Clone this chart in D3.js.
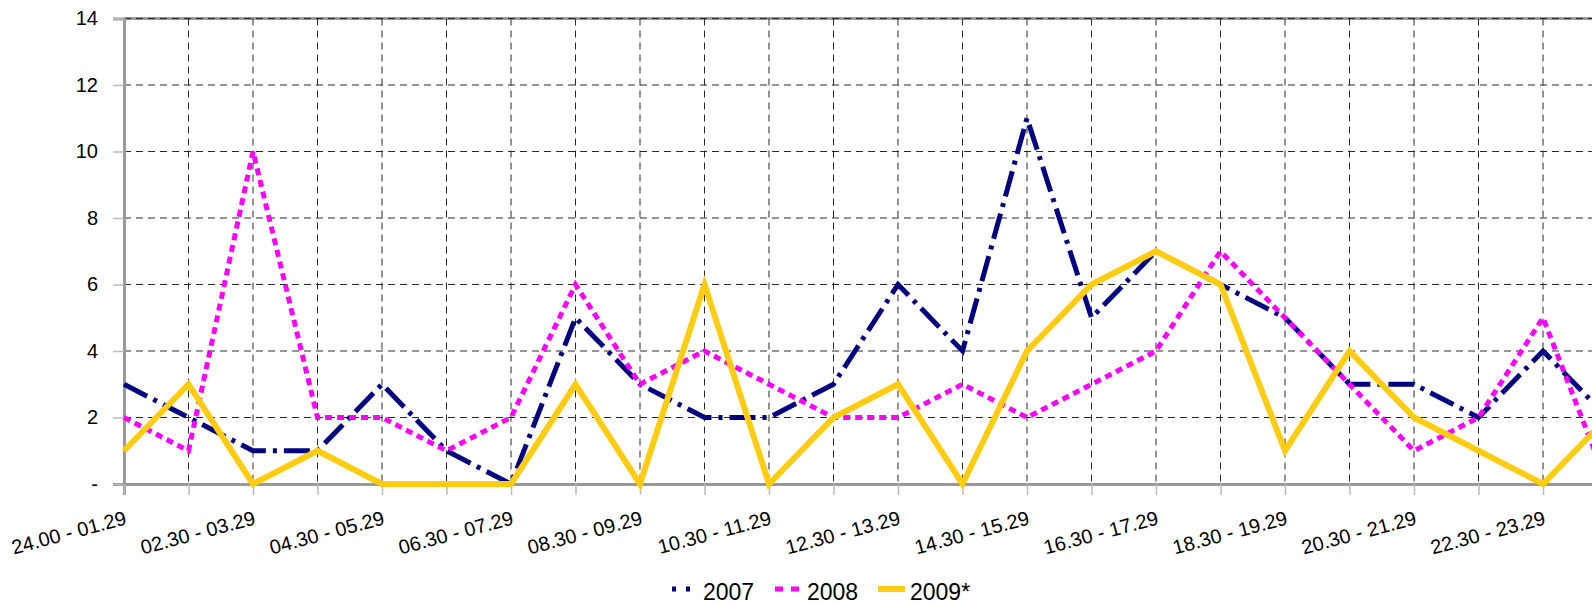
<!DOCTYPE html>
<html>
<head>
<meta charset="utf-8">
<script src="https://cdn.jsdelivr.net/npm/d3@7"></script>
<style>
  html, body { margin: 0; padding: 0; background: #fff; overflow: hidden; }
  svg { display: block; font-family: "Liberation Sans", Arial, sans-serif; }
</style>
</head>
<body>
<svg id="chart" width="1592" height="605"></svg>
<script>
const categories = [
  "24.00 - 01.29", "01.30 - 02.29", "02.30 - 03.29", "03.30 - 04.29",
  "04.30 - 05.29", "05.30 - 06.29", "06.30 - 07.29", "07.30 - 08.29",
  "08.30 - 09.29", "09.30 - 10.29", "10.30 - 11.29", "11.30 - 12.29",
  "12.30 - 13.29", "13.30 - 14.29", "14.30 - 15.29", "15.30 - 16.29",
  "16.30 - 17.29", "17.30 - 18.29", "18.30 - 19.29", "19.30 - 20.29",
  "20.30 - 21.29", "21.30 - 22.29", "22.30 - 23.29", "23.30 - 23.59"
];
const values2007 = [3, 2, 1, 1, 3, 1, 0, 5, 3, 2, 2, 3, 6, 4, 11, 5, 7, 6, 5, 3, 3, 2, 4, 2];
const values2008 = [2, 1, 10, 2, 2, 1, 2, 6, 3, 4, 3, 2, 2, 3, 2, 3, 4, 7, 5, 3, 1, 2, 5, 0];
const values2009 = [1, 3, 0, 1, 0, 0, 0, 3, 0, 6, 0, 2, 3, 0, 4, 6, 7, 6, 1, 4, 2, 1, 0, 2];
const seriesNames = ["2007", "2008", "2009*"];
const yTicks = [0, 2, 4, 6, 8, 10, 12, 14];

const series = [
  { name: seriesNames[0], values: values2007, color: "#000080", width: 5, dash: "26,7,4,7", legendDash: "4,10" },
  { name: seriesNames[1], values: values2008, color: "#FF00FF", width: 5, dash: "7,5", legendDash: "8,8" },
  { name: seriesNames[2], values: values2009, color: "#FFCC11", width: 6, dash: null, legendDash: null }
];

(function () {
const svg = d3.select("#chart");
const plotLeft = 124, plotTop = 18.5, plotBottom = 484, step = 64.5;
const plotRight = plotLeft + step * (categories.length - 1);

const x = d3.scalePoint().domain(categories).range([plotLeft, plotRight]);
const y = d3.scaleLinear().domain([0, 14]).range([plotBottom, plotTop]);

// plot border (top)
svg.append("line").attr("x1", plotLeft).attr("x2", plotRight).attr("y1", plotTop).attr("y2", plotTop)
  .attr("stroke", "#999").attr("stroke-width", 3);

// gridlines
const grid = svg.append("g");
grid.selectAll(".hg").data(yTicks.filter(d => d > 0)).join("line")
  .attr("x1", plotLeft).attr("x2", plotRight)
  .attr("y1", d => y(d)).attr("y2", d => y(d))
  .attr("stroke", "#2a2a2a").attr("stroke-width", 1).attr("stroke-dasharray", "7,5");
grid.selectAll(".vg").data(categories.slice(1)).join("line")
  .attr("x1", d => x(d)).attr("x2", d => x(d))
  .attr("y1", plotTop).attr("y2", plotBottom)
  .attr("stroke", "#2a2a2a").attr("stroke-width", 1).attr("stroke-dasharray", "7,5");

// Y axis
const yAxis = svg.append("g").attr("transform", `translate(${plotLeft},0)`)
  .call(d3.axisLeft(y).tickValues(yTicks).tickSize(11).tickPadding(15)
    .tickFormat(d => d === 0 ? "-" : d));
yAxis.select(".domain").attr("stroke", "#999").attr("stroke-width", 3);
yAxis.selectAll(".tick line").attr("stroke", "#bbb").attr("stroke-width", 1.5);
yAxis.selectAll(".tick text").attr("font-size", 20).attr("fill", "#000")
  .attr("font-family", "Liberation Sans, Arial, sans-serif");

// X axis
const xAxis = svg.append("g").attr("transform", `translate(0,${plotBottom})`)
  .call(d3.axisBottom(x).tickSize(11).tickFormat((d, i) => i % 2 === 0 ? d : ""));
xAxis.select(".domain").attr("stroke", "#999").attr("stroke-width", 3);
xAxis.selectAll(".tick line").attr("stroke", "#bbb").attr("stroke-width", 1.5);
xAxis.selectAll(".tick text")
  .attr("font-size", 20).attr("fill", "#000")
  .attr("font-family", "Liberation Sans, Arial, sans-serif")
  .attr("text-anchor", "end")
  .attr("dy", null)
  .attr("x", 3).attr("y", 40)
  .attr("transform", "rotate(-15, 3, 40)");

// series lines
const line = d3.line().x((d, i) => x(categories[i])).y(d => y(d));
series.forEach(s => {
  svg.append("path").datum(s.values)
    .attr("fill", "none")
    .attr("stroke", s.color)
    .attr("stroke-width", s.width)
    .attr("stroke-linejoin", "miter")
    .attr("stroke-dasharray", s.dash)
    .attr("d", line);
});

// legend
const legendItems = [
  { s: series[0], x1: 672, x2: 690, tx: 703 },
  { s: series[1], x1: 775, x2: 799, tx: 807 },
  { s: series[2], x1: 878, x2: 905, tx: 910 }
];
const lg = svg.append("g");
legendItems.forEach(it => {
  lg.append("line").attr("x1", it.x1).attr("x2", it.x2).attr("y1", 589).attr("y2", 589)
    .attr("stroke", it.s.color).attr("stroke-width", it.s.width)
    .attr("stroke-dasharray", it.s.legendDash);
  lg.append("text").attr("x", it.tx).attr("y", 599.5)
    .attr("font-size", 23).attr("fill", "#000").text(it.s.name);
});
})();
</script>
</body>
</html>
